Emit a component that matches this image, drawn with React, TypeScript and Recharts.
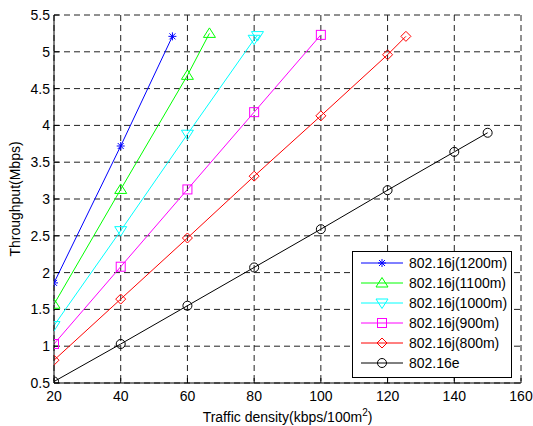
import React from 'react';
import { LineChart, Line, XAxis, YAxis, CartesianGrid } from 'recharts';

const xTicks = [20, 40, 60, 80, 100, 120, 140, 160];
const yTicks = [0.5, 1, 1.5, 2, 2.5, 3, 3.5, 4, 4.5, 5, 5.5];

const seriesNames = ['802.16j(1200m)', '802.16j(1100m)', '802.16j(1000m)', '802.16j(900m)', '802.16j(800m)', '802.16e'];
const seriesColors = ['#0000ff', '#00ff00', '#00ffff', '#ff00ff', '#ff0000', '#000000'];
const seriesMarkers = ['star', 'triUp', 'triDown', 'square', 'diamond', 'circle'];

const xJ1200 = [20, 40, 55.5];
const yJ1200 = [1.86, 3.72, 5.21];
const xJ1100 = [20, 40, 60, 66.6];
const yJ1100 = [1.57, 3.13, 4.68, 5.25];
const xJ1000 = [20, 40, 60, 80, 81];
const yJ1000 = [1.28, 2.57, 3.88, 5.17, 5.22];
const xJ900 = [20, 40, 60, 80, 100];
const yJ900 = [1.03, 2.08, 3.13, 4.18, 5.23];
const xJ800 = [20, 40, 60, 80, 100, 120, 125.5];
const yJ800 = [0.81, 1.64, 2.47, 3.31, 4.13, 4.96, 5.21];
const x16e = [20, 40, 60, 80, 100, 120, 140, 150];
const y16e = [0.52, 1.03, 1.55, 2.07, 2.59, 3.12, 3.64, 3.9];

const seriesX = [xJ1200, xJ1100, xJ1000, xJ900, xJ800, x16e];
const seriesY = [yJ1200, yJ1100, yJ1000, yJ900, yJ800, y16e];

const seriesData = seriesX.map((xs, i) => xs.map((x, j) => ({ x, y: seriesY[i][j] })));

const FONT = '"Liberation Sans", Arial, sans-serif';

function Marker({ cx, cy, shape, color }: { cx: number; cy: number; shape: string; color: string }) {
  const common = { fill: 'none', stroke: color, strokeWidth: 1 };
  if (shape === 'star') {
    return (
      <g {...common}>
        <line x1={cx - 4} y1={cy} x2={cx + 4} y2={cy} />
        <line x1={cx} y1={cy - 4} x2={cx} y2={cy + 4} />
        <line x1={cx - 3} y1={cy - 3} x2={cx + 3} y2={cy + 3} />
        <line x1={cx - 3} y1={cy + 3} x2={cx + 3} y2={cy - 3} />
      </g>
    );
  }
  if (shape === 'triUp') {
    return <polygon {...common} points={`${cx},${cy - 5.5} ${cx + 6},${cy + 4} ${cx - 6},${cy + 4}`} />;
  }
  if (shape === 'triDown') {
    return <polygon {...common} points={`${cx},${cy + 5.5} ${cx + 6},${cy - 4} ${cx - 6},${cy - 4}`} />;
  }
  if (shape === 'square') {
    return <rect {...common} x={cx - 4.5} y={cy - 4.5} width={9} height={9} />;
  }
  if (shape === 'diamond') {
    return <polygon {...common} points={`${cx},${cy - 5} ${cx + 5},${cy} ${cx},${cy + 5} ${cx - 5},${cy}`} />;
  }
  return <circle {...common} cx={cx} cy={cy} r={4.5} />;
}

function XLabel(props: any) {
  const vb = props.viewBox;
  return (
    <text x={vb.x + vb.width / 2} y={vb.y + 39} textAnchor="middle" fontSize={14} fontFamily={FONT} fill="#000">
      Traffic density(kbps/100m<tspan dy={-6} fontSize={10}>2</tspan><tspan dy={6}>)</tspan>
    </text>
  );
}

function YLabel(props: any) {
  const vb = props.viewBox;
  const x = vb.x + 20;
  const y = vb.y + vb.height / 2;
  return (
    <text x={x} y={y} transform={`rotate(-90, ${x}, ${y})`} textAnchor="middle" fontSize={14} fontFamily={FONT} fill="#000">
      Throughput(Mbps)
    </text>
  );
}

export default function App() {
  const tickStyle = { fill: '#000', fontSize: 14, fontFamily: FONT };
  return (
    <div style={{ position: 'absolute', left: 0, top: 0, width: 533, height: 426, background: '#fff' }}>
      <LineChart width={533} height={426} margin={{ top: 15, right: 12, bottom: 13, left: 0 }}>
        <CartesianGrid xAxisId="b" yAxisId="l" strokeDasharray="6 4" stroke="#222" />
        <XAxis
          xAxisId="b"
          type="number"
          dataKey="x"
          domain={[20, 160]}
          ticks={xTicks}
          allowDataOverflow
          tickSize={-5}
          tickMargin={13}
          stroke="#000"
          tick={tickStyle}
          height={30}
          label={<XLabel />}
        />
        <XAxis
          xAxisId="t"
          orientation="top"
          type="number"
          dataKey="x"
          domain={[20, 160]}
          ticks={xTicks}
          allowDataOverflow
          tickSize={-5}
          stroke="#000"
          height={0}
          tickFormatter={() => ''}
        />
        <YAxis
          yAxisId="l"
          type="number"
          domain={[0.5, 5.5]}
          ticks={yTicks}
          allowDataOverflow
          tickSize={-5}
          tickMargin={9}
          stroke="#000"
          tick={tickStyle}
          width={54}
          label={<YLabel />}
        />
        <YAxis
          yAxisId="r"
          orientation="right"
          type="number"
          domain={[0.5, 5.5]}
          ticks={yTicks}
          allowDataOverflow
          tickSize={-5}
          stroke="#000"
          width={0}
          tickFormatter={() => ''}
        />
        {seriesData.map((d, i) => (
          <Line
            key={seriesNames[i]}
            xAxisId="b"
            yAxisId="l"
            data={d}
            dataKey="y"
            type="linear"
            stroke={seriesColors[i]}
            strokeWidth={1}
            isAnimationActive={false}
            dot={(p: any) => (
              <Marker key={`${i}-${p.index}`} cx={p.cx} cy={p.cy} shape={seriesMarkers[i]} color={seriesColors[i]} />
            )}
            activeDot={false}
          />
        ))}
      </LineChart>
      <svg
        width={533}
        height={426}
        style={{ position: 'absolute', left: 0, top: 0, pointerEvents: 'none' }}
      >
        <rect x={352.5} y={251.5} width={159} height={126} fill="#fff" stroke="#000" strokeWidth={1} />
        {seriesNames.map((name, i) => {
          const y = 263 + i * 20;
          return (
            <g key={name}>
              <line x1={361} y1={y} x2={403} y2={y} stroke={seriesColors[i]} strokeWidth={1} />
              <Marker cx={382} cy={y} shape={seriesMarkers[i]} color={seriesColors[i]} />
              <text x={409} y={y + 5} fontSize={14} fontFamily={FONT} fill="#000">
                {name}
              </text>
            </g>
          );
        })}
      </svg>
    </div>
  );
}
